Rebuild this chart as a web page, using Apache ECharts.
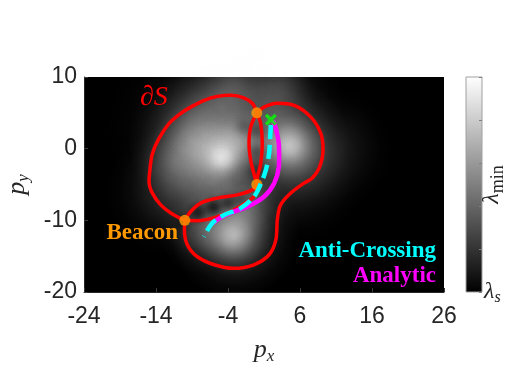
<!DOCTYPE html>
<html>
<head>
<meta charset="utf-8">
<script src="https://cdn.jsdelivr.net/npm/echarts@6/dist/echarts.min.js"></script>
<style>html,body{margin:0;padding:0;background:#fff}#chart{width:515px;height:387px}</style>
</head>
<body>
<div id="chart"></div>
<script>
// 坐标轴刻度
const xTicks = [-24, -14, -4, 6, 16, 26];
const yTicks = [-20, -10, 0, 10];

// 边界 ∂S，分成几段（在交点处断开）
const leftLobe = [[-10, -10], [-11.9, -9.0], [-13.35, -7.85], [-14.5, -6.2], [-14.97, -4.6], [-14.85, -3.0],
  [-14.5, -0.7], [-13.6, 1.4], [-12.2, 3.5], [-10.6, 4.9], [-9.0, 5.9], [-7.3, 6.75], [-5.5, 7.3], [-3.6, 7.45],
  [-1.8, 7.1], [-0.6, 6.3], [0, 5]];
const rightLobe = [[0, 5], [1.0, 5.8], [2.85, 6.35], [5.2, 6.05], [7.5, 4.4], [8.9, 2.1], [9.2, -0.2], [8.7, -2.6],
  [7.7, -4.1], [6.5, -4.85], [4.7, -6.2], [3.3, -7.85], [2.85, -9.9], [2.65, -12.7], [1.7, -14.8], [-0.4, -16.2],
  [-3.2, -16.7], [-5.9, -16.2], [-8.3, -15.05], [-9.65, -13.4], [-10.05, -11.3], [-10, -10]];
const narrowLeft = [[0, 5], [-0.85, 3.0], [-1.08, 0.7], [-0.85, -1.6], [-0.4, -3.5], [0, -5]];
const narrowRight = [[0, 5], [0.54, 3.5], [0.76, 0.7], [0.54, -2.1], [0.1, -3.9], [0, -5]];
const upperBranch = [[0, -5], [-0.65, -5.75], [-2.7, -6.45], [-5.5, -6.9], [-7.8, -7.6], [-9.2, -8.8], [-10, -10]];
const lowerBranch = [[0, -5], [-0.2, -6.4], [-1.3, -7.4], [-3.2, -8.55], [-5.5, -9.5], [-8.3, -10.05], [-10, -10]];

// 路径
const antiCrossing = [[1.95, 3.3], [1.9, 2.3], [1.7, -0.7], [1.25, -3.0], [0.55, -4.9], [-0.4, -6.7], [-2.25, -8.3],
  [-4.55, -9.25], [-6.2, -10.4], [-7.35, -12.3]];
const analytic = [[2.35, 3.7], [2.7, 2.6], [3.05, 0.7], [3.1, -1.0], [3.05, -2.6], [2.4, -4.85], [1.0, -6.7],
  [-1.3, -8.1], [-3.2, -8.8], [-5.0, -9.6], [-6.0, -10.3]];
const specialPts = [[-10, -10], [0, 5], [0, -5]];
const endPt = [[1.95, 4.05]];

// 背景 λ 的亮斑 [x, y, 强度]
const glowHuge = [[-4, -2, 0.18], [-7, 3, 0.15]];
const glowWide = [[-9, 1, 0.28], [-6, -5, 0.22], [4, 1, 0.32], [-3, -12, 0.38], [-5, 6, 0.25], [3, 6.5, 0.2],
  [-12, -6, 0.18], [6, -4, 0.15], [10, 0, 0.15]];
const glowMid = [[-5, -1.2, 0.32], [-9, 1, 0.12], [4.6, 0.4, 0.38], [-3.3, -12.3, 0.38], [-1, -8, 0.2], [-2.5, 1, 0.28],
  [-8, -12, 0.2], [-12, -2, 0.12], [-3, 9, 0.15], [3, 9, 0.15]];
const glowSmall = [[-4.7, -1.6, 0.18], [4.5, 0.3, 0.08], [-3.2, -12.3, 0.08]];
// 暗区
const darkSpots = [[-6, -8.2, 0.85], [-8.2, -8.9, 0.75], [-4, -7.6, 0.65], [-2.3, -7.2, 0.4], [-10.5, -10.3, 0.5],
  [-0.1, -0.5, 0.35], [-0.1, -3, 0.35], [0.1, 2.5, 0.4], [-1.8, 3, 0.3]];
const darkSpike = [[0, 5], [0, 10]];

const PX = 360 / 50; // 每单位像素

function radial(rgb, a) {
  const prof = [[0, 1], [0.2, 0.87], [0.4, 0.58], [0.6, 0.28], [0.8, 0.09], [1, 0]];
  return new echarts.graphic.RadialGradient(0.5, 0.5, 0.5,
    prof.map(p => ({ offset: p[0], color: 'rgba(' + rgb + ',' + (a * p[1]).toFixed(3) + ')' })));
}
function blobs(arr, r, rgb, blend) {
  return {
    type: 'scatter', silent: true, z: 1, blendMode: blend, symbol: 'circle', symbolSize: 2 * r * PX,
    data: arr.map(d => ({ value: [d[0], d[1]], itemStyle: { color: radial(rgb, d[2]) } }))
  };
}
function curve(data, color, width, z, type) {
  return {
    type: 'line', data: data, smooth: 0.35, symbol: 'none', silent: true, z: z,
    lineStyle: { color: color, width: width, type: type || 'solid', cap: type ? 'butt' : 'round', join: 'round' }
  };
}
function spike(width, opacity, from) {
  return {
    type: 'line', data: darkSpike.map((d, i) => i === 0 ? [d[0], from] : d), symbol: 'none', silent: true, z: 1,
    lineStyle: { color: '#000', width: width, opacity: opacity, cap: 'butt' }
  };
}

const mathFont = 'Liberation Serif, DejaVu Serif, serif';
const tickFont = 'Liberation Sans, Arial, sans-serif';
const nameRich = {
  p: { fontFamily: mathFont, fontStyle: 'italic', fontSize: 26, color: '#262626' },
  s: { fontFamily: mathFont, fontStyle: 'italic', fontSize: 17, color: '#262626', padding: [12, 0, 0, 0] }
};

const chart = echarts.init(document.getElementById('chart'));
const option = {
  animation: false,
  grid: [
    { left: 84, top: 77, width: 360, height: 215, show: true, backgroundColor: '#000', borderWidth: 0, outerBoundsMode: 'none', containLabel: false },
    {
      left: 466, top: 77, width: 16, height: 215, show: true, borderColor: '#a0a0a0', borderWidth: 1,
      outerBoundsMode: 'none', containLabel: false,
      backgroundColor: new echarts.graphic.LinearGradient(0, 0, 0, 1, [{ offset: 0, color: '#ffffff' }, { offset: 1, color: '#000000' }])
    }
  ],
  xAxis: [
    {
      type: 'value', min: xTicks[0], max: xTicks[xTicks.length - 1], interval: 10,
      axisLine: { show: true, onZero: false, lineStyle: { color: '#262626' } },
      axisTick: { show: true, inside: true, length: 4, customValues: xTicks, lineStyle: { color: '#3a3a3a' } },
      axisLabel: { customValues: xTicks, margin: 13, fontFamily: tickFont, fontSize: 23, color: '#262626' },
      splitLine: { show: false },
      name: '{p|p}{s|x}', nameLocation: 'middle', nameGap: 44, nameTextStyle: { rich: nameRich }
    },
    { gridIndex: 1, type: 'value', min: 0, max: 1, show: false }
  ],
  yAxis: [
    {
      type: 'value', min: yTicks[0], max: yTicks[yTicks.length - 1], interval: 10,
      axisLine: { show: true, onZero: false, lineStyle: { color: '#262626' } },
      axisTick: { show: true, inside: true, length: 4, lineStyle: { color: '#3a3a3a' } },
      axisLabel: { margin: 7, fontFamily: tickFont, fontSize: 23, color: '#262626' },
      splitLine: { show: false },
      name: '{p|p}{s|y}', nameLocation: 'middle', nameGap: 52, nameTextStyle: { rich: nameRich }
    },
    {
      gridIndex: 1, type: 'value', min: 0, max: 1, interval: 0.2, position: 'right',
      axisLine: { show: false, onZero: false }, splitLine: { show: false },
      axisTick: { show: true, inside: true, length: 3, lineStyle: { color: '#808080' } },
      axisLabel: {
        margin: 2, formatter: v => v === 0 ? '{l|λ}{s|s}' : '',
        rich: {
          l: { fontFamily: mathFont, fontStyle: 'italic', fontSize: 24, color: '#262626' },
          s: { fontFamily: mathFont, fontStyle: 'italic', fontSize: 16, color: '#262626', padding: [12, 0, 0, 0] }
        }
      },
      name: '{l|λ}{m|min}', nameLocation: 'middle', nameGap: -5, nameMoveOverlap: false,
      nameTextStyle: {
        rich: {
          l: { fontFamily: mathFont, fontStyle: 'italic', fontSize: 24, color: '#262626' },
          m: { fontFamily: mathFont, fontSize: 18, color: '#262626', padding: [12, 0, 0, 0] }
        }
      }
    }
  ],
  series: [
    blobs(glowHuge, 14, '255,255,255', 'lighter'),
    blobs(glowWide, 9, '255,255,255', 'lighter'),
    blobs(glowMid, 5.5, '255,255,255', 'lighter'),
    blobs(glowSmall, 3, '255,255,255', 'lighter'),
    blobs(darkSpots, 2, '0,0,0', 'source-over'),
    spike(18, 0.5, 7.5),
    spike(10, 0.5, 6),
    spike(5, 0.6, 5),
    curve(leftLobe, '#ff0000', 3.5, 3),
    curve(rightLobe, '#ff0000', 3.5, 3),
    curve(narrowLeft, '#ff0000', 3.5, 3),
    curve(narrowRight, '#ff0000', 3.5, 3),
    curve(upperBranch, '#ff0000', 3.5, 3),
    curve(lowerBranch, '#ff0000', 3.5, 3),
    {
      type: 'scatter', data: specialPts, symbol: 'circle', symbolSize: 11, silent: true, z: 4,
      itemStyle: { color: '#ff9900' }
    },
    curve(analytic, '#ff00ff', 4.5, 5),
    curve(antiCrossing, '#00ffff', 4.5, 6, [14, 6]),
    {
      type: 'scatter', data: endPt, silent: true, z: 7, symbolSize: 12,
      symbol: 'path://M0,2 L2,0 L5,3 L8,0 L10,2 L7,5 L10,8 L8,10 L5,7 L2,10 L0,8 L3,5 Z',
      itemStyle: { color: '#00ff00' }
    }
  ],
  graphic: [
    { type: 'text', left: 140, top: 84, z: 100, style: { text: '∂S', fill: '#ff0000', font: 'italic 28px ' + mathFont } },
    { type: 'text', right: 337, top: 222, z: 100, style: { text: 'Beacon', fill: '#ff9900', font: 'bold 23px ' + mathFont } },
    { type: 'text', right: 79, top: 240, z: 100, style: { text: 'Anti-Crossing', fill: '#00ffff', font: 'bold 23px ' + mathFont } },
    { type: 'text', right: 79, top: 265, z: 100, style: { text: 'Analytic', fill: '#ff00ff', font: 'bold 23px ' + mathFont } }
  ]
};
chart.setOption(option);
</script>
</body>
</html>
